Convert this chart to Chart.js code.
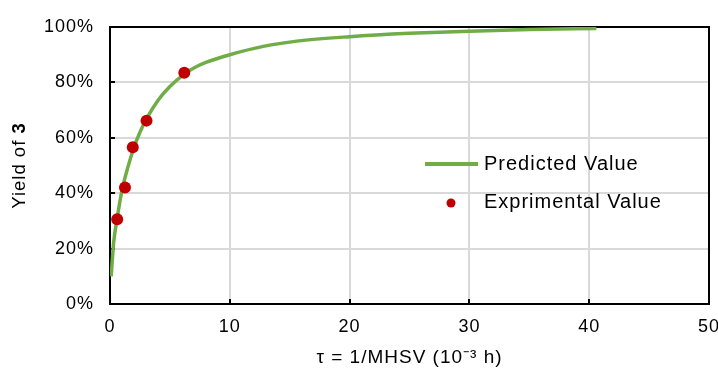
<!DOCTYPE html>
<html>
<head>
<meta charset="utf-8">
<script src="https://cdn.jsdelivr.net/npm/chart.js@4/dist/chart.umd.min.js"></script>
<style>
  html, body { margin: 0; padding: 0; background: #fff; }
  #wrap { width: 718px; height: 372px; position: relative; }
</style>
</head>
<body>
<div id="wrap"><canvas id="chart"></canvas></div>
<script>
// données
const tauPred   = [0.1, 0.3, 0.6, 1.0, 1.5, 2.0, 2.5, 3.0, 4.0, 5.0, 6.2, 7.0, 8, 10, 12.8, 15.6, 20, 25, 30, 35, 40.6];
const yieldPred = [10, 22, 31, 41, 49.5, 56.5, 62, 66.5, 73.5, 78.5, 83, 85.2, 87.2, 90, 93, 94.9, 96.5, 97.7, 98.5, 99.1, 99.5];

const tauExp   = [0.6, 1.25, 1.9, 3.05, 6.2];
const yieldExp = [30.6, 42.1, 56.6, 66.2, 83.5];

const xTicks = [0, 10, 20, 30, 40, 50];
const yTicks = [0, 20, 40, 60, 80, 100];

const COLOR = {
  line:  '#70ad47',
  dot:   '#c00000',
  grid:  '#d9d9d9',
  axis:  '#000000',
  text:  '#000000',
};
const FONT = '"Liberation Sans", Arial, sans-serif';
const SPACING = '1px';

// espacement des lettres (le canvas perd son état à chaque resize)
const spacingPlugin = {
  id: 'spacing',
  beforeUpdate(chart) { chart.ctx.letterSpacing = SPACING; },
  beforeDraw(chart) { chart.ctx.letterSpacing = SPACING; },
};

// cadre noir, petites graduations intérieures, titre Y et légende
const framePlugin = {
  id: 'frame',
  beforeDatasetsDraw(chart) {
    const { ctx, chartArea: a, scales } = chart;
    ctx.save();
    ctx.strokeStyle = COLOR.axis;
    ctx.lineWidth = 2;
    ctx.beginPath();
    xTicks.slice(1, -1).forEach(v => {
      const x = Math.round(scales.x.getPixelForValue(v));
      ctx.moveTo(x, a.bottom);
      ctx.lineTo(x, a.bottom - 5);
    });
    yTicks.slice(1, -1).forEach(v => {
      const y = Math.round(scales.y.getPixelForValue(v));
      ctx.moveTo(a.left, y);
      ctx.lineTo(a.left + 5, y);
    });
    ctx.stroke();
    ctx.strokeRect(a.left, a.top, a.right - a.left, a.bottom - a.top);
    ctx.restore();
  },
  afterDraw(chart) {
    const { ctx, chartArea: a } = chart;
    ctx.save();
    ctx.letterSpacing = SPACING;
    ctx.fillStyle = COLOR.text;
    ctx.textBaseline = 'middle';

    // titre Y : "Yield of " + "3" en gras
    const normal = '18.5px ' + FONT;
    const bold = 'bold 18.5px ' + FONT;
    ctx.font = normal;
    const w1 = ctx.measureText('Yield of ').width;
    ctx.font = bold;
    const w2 = ctx.measureText('3').width;
    ctx.translate(20, (a.top + a.bottom) / 2);
    ctx.rotate(-Math.PI / 2);
    ctx.textAlign = 'left';
    ctx.font = normal;
    ctx.fillText('Yield of ', -(w1 + w2) / 2, 0);
    ctx.font = bold;
    ctx.fillText('3', -(w1 + w2) / 2 + w1, 0);
    ctx.setTransform(1, 0, 0, 1, 0, 0);

    // légende dans la zone de tracé
    const ds = chart.data.datasets;
    ctx.font = '20px ' + FONT;
    ctx.textAlign = 'left';
    const lx = 425, tx = 484;
    ctx.strokeStyle = ds[1].borderColor;
    ctx.lineWidth = 4;
    ctx.beginPath();
    ctx.moveTo(lx, 164);
    ctx.lineTo(lx + 53, 164);
    ctx.stroke();
    ctx.fillText(ds[1].label, tx, 164);
    ctx.fillStyle = ds[0].backgroundColor;
    ctx.beginPath();
    ctx.arc(451, 203, 4.5, 0, Math.PI * 2);
    ctx.fill();
    ctx.fillStyle = COLOR.text;
    ctx.fillText(ds[0].label, tx, 202);
    ctx.restore();
  },
};

new Chart(document.getElementById('chart').getContext('2d'), {
  type: 'scatter',
  data: {
    datasets: [
      {
        label: 'Exprimental Value',
        data: tauExp.map((t, i) => ({ x: t, y: yieldExp[i] })),
        backgroundColor: COLOR.dot,
        borderWidth: 0,
        pointRadius: 6,
        order: 1,
      },
      {
        label: 'Predicted Value',
        data: tauPred.map((t, i) => ({ x: t, y: yieldPred[i] })),
        showLine: true,
        borderColor: COLOR.line,
        borderWidth: 3.5,
        pointRadius: 0,
        cubicInterpolationMode: 'monotone',
        order: 2,
      },
    ],
  },
  options: {
    responsive: true,
    maintainAspectRatio: false,
    animation: false,
    layout: { padding: { top: 27, right: 9, left: 0, bottom: 0 } },
    plugins: {
      legend: { display: false },
      tooltip: { enabled: false },
    },
    scales: {
      x: {
        type: 'linear',
        min: 0, max: 50,
        afterBuildTicks: s => { s.ticks = xTicks.map(v => ({ value: v })); },
        afterFit: s => { s.height = 68; s.paddingLeft = 0; s.paddingRight = 0; },
        grid: { color: COLOR.grid, lineWidth: 2, drawTicks: false },
        border: { display: false },
        ticks: { color: COLOR.text, padding: 12, font: { family: FONT, size: 18 } },
        title: {
          display: true,
          text: 'τ = 1/MHSV (10⁻³ h)',
          color: COLOR.text,
          font: { family: FONT, size: 19 },
          padding: { top: 0, bottom: 3 },
        },
      },
      y: {
        min: 0, max: 100,
        afterBuildTicks: s => { s.ticks = yTicks.map(v => ({ value: v })); },
        afterFit: s => { s.width = 110; s.paddingTop = 0; s.paddingBottom = 0; },
        grid: { color: COLOR.grid, lineWidth: 2, drawTicks: false },
        border: { display: false },
        ticks: {
          color: COLOR.text,
          padding: 16,
          font: { family: FONT, size: 18 },
          callback: v => v + '%',
        },
      },
    },
  },
  plugins: [spacingPlugin, framePlugin],
});
</script>
</body>
</html>
